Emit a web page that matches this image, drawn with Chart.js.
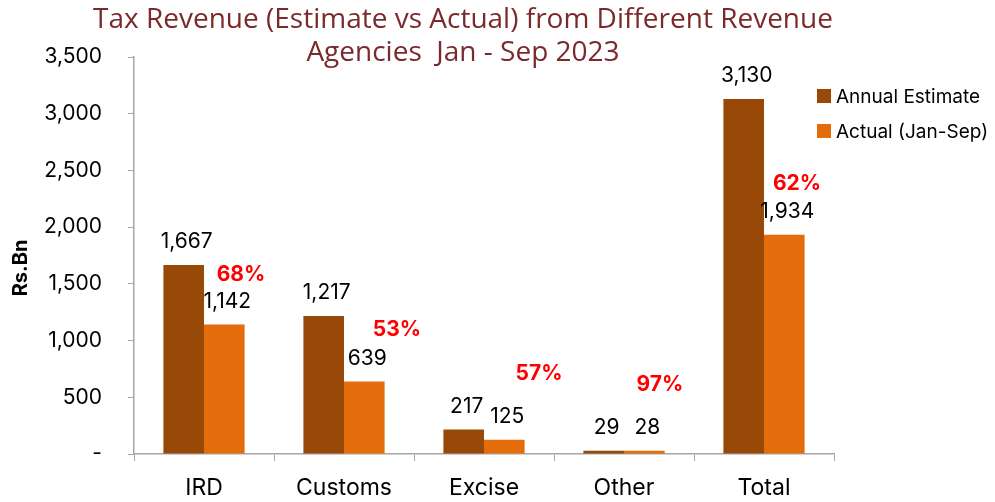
<!DOCTYPE html>
<html>
<head>
<meta charset="utf-8">
<script src="https://cdn.jsdelivr.net/npm/chart.js@4.4.1/dist/chart.umd.min.js"></script>
<style>
  html, body { margin: 0; padding: 0; background: #ffffff; }
  #wrap { width: 995px; height: 502px; position: relative; }
</style>
</head>
<body>
<div id="wrap"><canvas id="c" width="995" height="502"></canvas></div>
<script>
const categories = ['IRD', 'Customs', 'Excise', 'Other', 'Total'];
const annualEstimate = [1667, 1217, 217, 29, 3130];
const actualJanSep = [1142, 639, 125, 28, 1934];
const achievementPct = ['68%', '53%', '57%', '97%', '62%'];
const yTicks = [0, 500, 1000, 1500, 2000, 2500, 3000, 3500];
const seriesNames = ['Annual Estimate', 'Actual (Jan-Sep)'];
const titleLines = ['Tax Revenue (Estimate vs Actual) from Different Revenue', 'Agencies  Jan - Sep 2023'];
const yAxisTitle = 'Rs.Bn';

const BODY_FONT = 'Inter, "Noto Sans", sans-serif';
const COL_EST = '#984807';
const COL_ACT = '#E46C0A';
const AXIS_COL = '#A6A6A6';

const labelsPlugin = {
  id: 'customLabels',
  afterDraw(chart, args, opts) {
    const ctx = chart.ctx;
    const xs = chart.scales.x, ys = chart.scales.y;
    ctx.save();
    // value labels
    ctx.font = '21px ' + BODY_FONT;
    ctx.fillStyle = '#000000';
    ctx.textAlign = 'center';
    ctx.textBaseline = 'middle';
    chart.data.datasets.forEach((ds, di) => {
      const meta = chart.getDatasetMeta(di);
      meta.data.forEach((bar, i) => {
        const v = ds.data[i];
        ctx.fillText(v.toLocaleString('en-US'), bar.x + 3, bar.y - opts.valueGap);
      });
    });
    // percentage labels
    ctx.font = 'bold 21px ' + BODY_FONT;
    ctx.fillStyle = '#FF0000';
    achievementPct.forEach((p, i) => {
      const x = xs.getPixelForValue(i) + opts.pctDx[i];
      const y = ys.getPixelForValue(opts.pctAt[i]);
      ctx.fillText(p, x, y);
    });
    // title
    ctx.font = opts.titleFont;
    ctx.fillStyle = '#7A2A2C';
    titleLines.forEach((t, i) => {
      ctx.fillText(t, opts.titleX, opts.titleY[i]);
    });
    // y axis title
    ctx.save();
    ctx.translate(opts.yTitleX, opts.yTitleY);
    ctx.rotate(-Math.PI / 2);
    ctx.font = 'bold 20px ' + BODY_FONT;
    ctx.fillStyle = '#000000';
    ctx.fillText(yAxisTitle, 0, 0);
    ctx.restore();
    // legend
    ctx.font = '19px ' + BODY_FONT;
    ctx.textAlign = 'left';
    [COL_EST, COL_ACT].forEach((c, i) => {
      const y = opts.legendY[i];
      ctx.fillStyle = c;
      ctx.fillRect(opts.legendX, y - 7, 14, 14);
      ctx.fillStyle = '#000000';
      ctx.fillText(seriesNames[i], opts.legendX + 19, y + 1);
    });
    ctx.restore();
  }
};

new Chart(document.getElementById('c'), {
  type: 'bar',
  data: {
    labels: categories,
    datasets: [
      { label: seriesNames[0], data: annualEstimate, backgroundColor: COL_EST, barPercentage: 1.0, categoryPercentage: 0.58 },
      { label: seriesNames[1], data: actualJanSep, backgroundColor: COL_ACT, barPercentage: 1.0, categoryPercentage: 0.58 }
    ]
  },
  options: {
    responsive: false,
    animation: false,
    layout: { padding: { top: 57, right: 161, left: 0, bottom: 0 } },
    plugins: {
      legend: { display: false },
      title: { display: false },
      tooltip: { enabled: false },
      customLabels: {
        valueGap: 23,
        pctDx: [37, 53, 55, 36, 33],
        pctAt: [1578, 1093, 705, 608, 2381],
        titleFont: '28px "Open Sans", sans-serif',
        titleX: 463,
        titleY: [20, 53],
        yTitleX: 21,
        yTitleY: 268,
        legendX: 817,
        legendY: [96, 131]
      }
    },
    scales: {
      x: {
        grid: { drawOnChartArea: false, offset: true, drawTicks: true, tickLength: 7, color: AXIS_COL },
        border: { color: AXIS_COL, width: 1.5 },
        ticks: { color: '#000000', font: { family: BODY_FONT, size: 23 }, padding: 13 },
        afterFit(scale) { scale.height = 48; }
      },
      y: {
        min: 0, max: 3500,
        afterBuildTicks(scale) { scale.ticks = yTicks.map(v => ({ value: v })); },
        grid: { drawOnChartArea: false, drawTicks: true, tickLength: 6, color: AXIS_COL },
        border: { color: AXIS_COL, width: 1.5 },
        ticks: {
          color: '#000000', font: { family: BODY_FONT, size: 21 }, padding: 26,
          callback: v => v === 0 ? '-' : v.toLocaleString('en-US')
        },
        afterFit(scale) { scale.width = 134; }
      }
    }
  },
  plugins: [labelsPlugin]
});
</script>
</body>
</html>
